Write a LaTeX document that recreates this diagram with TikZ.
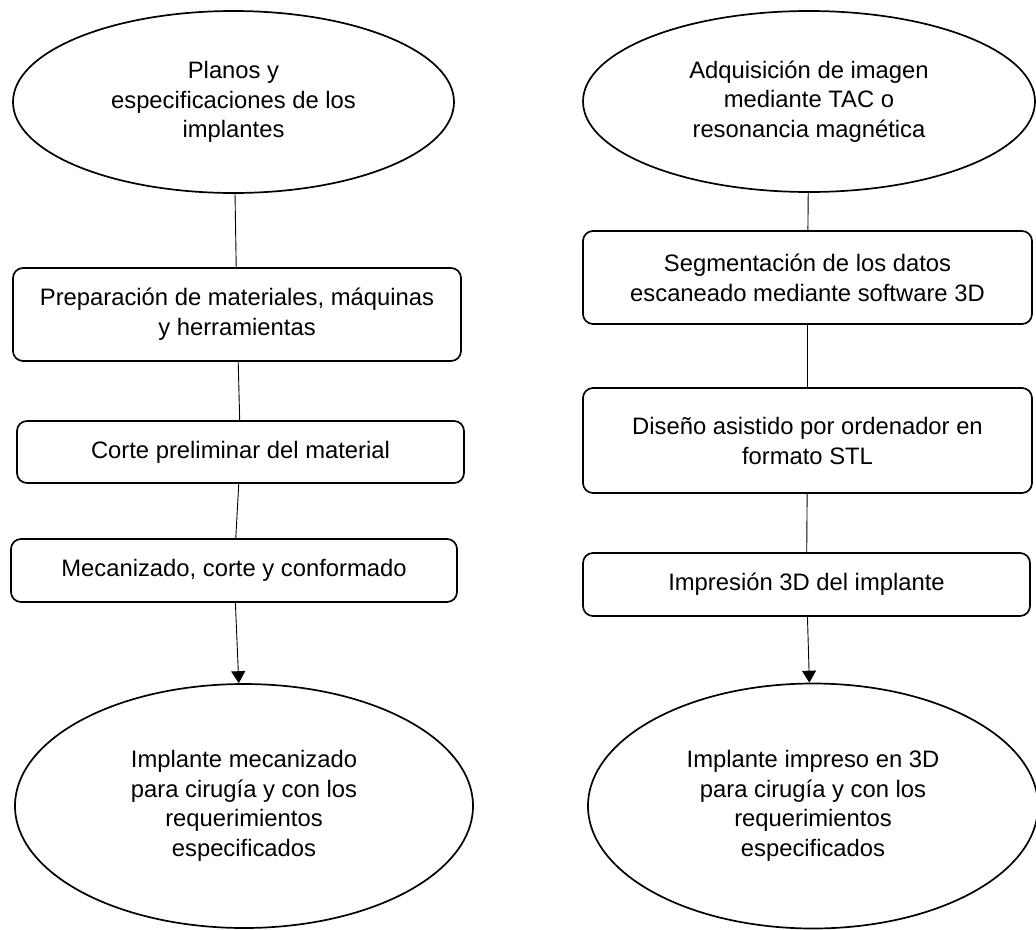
\documentclass[tikz,border=0pt]{standalone}
\usepackage{fontspec}
\setmainfont{Liberation Sans}
\usetikzlibrary{shapes.geometric, arrows.meta}
\tikzset{
  block/.style={rectangle, draw, line width=1.7pt, rounded corners=10pt, align=center, inner sep=0pt, font=\fontsize{23.8}{30}\selectfont},
  terminal/.style={ellipse, draw, line width=1.7pt, align=center, inner sep=0pt, font=\fontsize{23.8}{29.5}\selectfont},
  link/.style={line width=0.9pt},
  arr/.style={-{Triangle[length=12pt, width=14pt]}, line width=0.9pt},
}
\begin{document}
\begin{tikzpicture}[x=1pt, y=-1pt]
  \useasboundingbox (0,0) rectangle (1036,929);
  % left column: machined implant
  \node[terminal, minimum width=441pt, minimum height=182pt] (planos) at (233.5,102) {Planos y\\especificaciones de los\\implantes};
  \node[block, minimum width=448pt, minimum height=93pt] (prep) at (237,314.5) {Preparación de materiales, máquinas\\y herramientas};
  \node[block, minimum width=447pt, minimum height=62pt] (corte) at (240.5,452) {Corte preliminar del material};
  \node[block, minimum width=446pt, minimum height=63pt] (meca) at (234,570.5) {Mecanizado, corte y conformado};
  \node[terminal, minimum width=458pt, minimum height=244pt] (implmeca) at (244,806) {Implante mecanizado\\para cirugía y con los\\requerimientos\\especificados};
  \draw[link] (planos) -- (prep);
  \draw[link] (prep) -- (corte);
  \draw[link] (corte) -- (meca);
  \draw[arr] (meca) -- (implmeca);
  % right column: 3D printed implant
  \node[terminal, minimum width=452pt, minimum height=181pt] (adq) at (809,101.5) {Adquisición de imagen\\mediante TAC o\\resonancia magnética};
  \node[block, minimum width=449pt, minimum height=93pt] (segm) at (807.5,277.5) {Segmentación de los datos\\escaneado mediante software 3D};
  \node[block, minimum width=449pt, minimum height=105pt] (diseno) at (807.5,440.5) {Diseño asistido por ordenador en\\formato STL};
  \node[block, minimum width=447pt, minimum height=63pt] (impr) at (806.5,584.5) {Impresión 3D del implante};
  \node[terminal, minimum width=450pt, minimum height=245pt] (implimpr) at (813,806) {Implante impreso en 3D\\para cirugía y con los\\requerimientos\\especificados};
  \draw[link] (adq) -- (segm);
  \draw[link] (segm) -- (diseno);
  \draw[link] (diseno) -- (impr);
  \draw[arr] (impr) -- (implimpr);
\end{tikzpicture}
\end{document}
